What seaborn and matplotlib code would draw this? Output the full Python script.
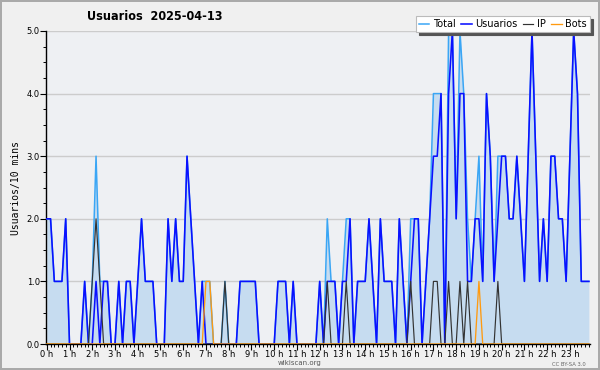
import numpy as np
import pandas as pd
import matplotlib
matplotlib.use("Agg")
import matplotlib.pyplot as plt
import seaborn as sns
from matplotlib.ticker import MultipleLocator

title = "Usuarios  2025-04-13"
ylabel = "Usuarios/10 mins"
hours = list(range(24))
hour_labels = [f"{h} h" for h in hours]
series_names = ["Total", "Usuarios", "IP", "Bots"]

# one value per 10-minute slot (144 slots)
usuarios = [2,2,1,1,1,2,0,0,0,0,1,0,
            0,1,0,1,1,0,0,1,0,1,1,0,
            1,2,1,1,1,0,0,0,2,1,2,1,
            1,3,2,1,0,1,0,0,0,0,0,0,
            0,0,0,1,1,1,1,1,0,0,0,0,
            0,1,1,1,0,1,0,0,0,0,0,0,
            1,0,1,1,1,0,1,1,2,0,1,1,
            1,2,1,0,2,1,1,1,0,2,1,0,
            1,2,2,0,1,2,3,3,4,0,4,5,
            2,4,4,1,1,2,2,1,4,3,1,2,
            3,3,2,2,3,2,1,3,5,3,1,2,
            1,3,3,2,2,1,3,5,4,1,1,1]
ip = [0,0,0,0,0,0,0,0,0,0,0,0,
      1,2,1,0,0,0,0,0,0,0,0,0,
      0,0,0,0,0,0,0,0,0,0,0,0,
      0,0,0,0,0,0,0,0,0,0,0,1,
      0,0,0,0,0,0,0,0,0,0,0,0,
      0,0,0,0,0,0,0,0,0,0,0,0,
      0,0,1,0,0,0,0,1,0,0,0,0,
      0,0,0,0,0,0,0,0,0,0,0,0,
      1,0,0,0,0,0,1,1,0,0,1,0,
      0,1,0,1,0,0,0,0,0,0,0,1,
      0,0,0,0,0,0,0,0,0,0,0,0,
      0,0,0,0,0,0,0,0,0,0,0,0]
bots = [0,0,0,0,0,0,0,0,0,0,0,0,
        0,0,0,0,0,0,0,0,0,0,0,0,
        0,0,0,0,0,0,0,0,0,0,0,0,
        0,0,0,0,0,0,1,1,0,0,0,0,
        0,0,0,0,0,0,0,0,0,0,0,0,
        0,0,0,0,0,0,0,0,0,0,0,0,
        0,0,0,0,0,0,0,0,0,0,0,0,
        0,0,0,0,0,0,0,0,0,0,0,0,
        0,0,0,0,0,0,0,0,0,0,0,0,
        0,0,0,0,0,0,1,0,0,0,0,0,
        0,0,0,0,0,0,0,0,0,0,0,0,
        0,0,0,0,0,0,0,0,0,0,0,0]
total = [2,2,1,1,1,2,0,0,0,0,1,0,
         1,3,1,1,1,0,0,1,0,1,1,0,
         1,2,1,1,1,0,0,0,2,1,2,1,
         1,3,2,1,0,1,1,1,0,0,0,1,
         0,0,0,1,1,1,1,1,0,0,0,0,
         0,1,1,1,0,1,0,0,0,0,0,0,
         1,0,2,1,1,0,1,2,2,0,1,1,
         1,2,1,0,2,1,1,1,0,2,1,0,
         2,2,2,0,1,2,4,4,4,0,5,5,
         2,5,4,2,1,2,3,1,4,3,1,3,
         3,3,2,2,3,2,1,3,5,3,1,2,
         1,3,3,2,2,1,3,5,4,1,1,1]

slots = np.arange(len(total))
df = pd.DataFrame({"slot": slots, "Total": total, "Usuarios": usuarios,
                   "IP": ip, "Bots": bots})

colors = {"Total": "#3aa6f5", "Usuarios": "#0a10ff", "IP": "#333333", "Bots": "#ff9a10"}
widths = {"Total": 1.1, "Usuarios": 1.15, "IP": 0.85, "Bots": 0.95}
fill_color = "#c6dcf0"

fig = plt.figure(figsize=(6, 3.7), dpi=100)
fig.patch.set_facecolor("#f0f0f0")
ax = fig.add_axes([46/600, 1-344/370, (590-46)/600, (344-31)/370])
ax.set_facecolor("#eef0f3")

ax.fill_between(df["slot"], 0, df["Total"], color=fill_color, lw=0, zorder=1)
for name in series_names:
    sns.lineplot(data=df, x="slot", y=name, ax=ax, color=colors[name],
                 lw=widths[name], label=name, zorder=3)

ax.set_xlim(-0.2, 143.3)
ax.set_ylim(0, 5)
ax.set_xticks(np.arange(0, 144, 6))
ax.set_xticklabels(hour_labels)
ax.xaxis.set_minor_locator(MultipleLocator(1))
ax.set_yticks(np.arange(0, 6, 1))
ax.set_yticklabels([f"{v:.1f}" for v in range(6)])
ax.yaxis.set_minor_locator(MultipleLocator(0.25))
ax.tick_params(axis="both", which="major", length=4, width=0.8, labelsize=6,
               pad=0.5, colors="black")
ax.tick_params(axis="both", which="minor", length=2.5, width=0.7)
ax.set_axisbelow(True)
ax.grid(axis="y", which="major", color="#cccccc", lw=1)
ax.grid(axis="x", visible=False)
for s in ["top", "right"]:
    ax.spines[s].set_visible(False)
for s in ["left", "bottom"]:
    ax.spines[s].set_color("black")
    ax.spines[s].set_linewidth(1)
ax.set_xlabel("")
ax.set_ylabel(ylabel, family="DejaVu Sans Mono", fontsize=7, labelpad=4)

leg = ax.legend(loc="upper right", bbox_to_anchor=(590/600, 1-16/370),
                bbox_transform=fig.transFigure, ncol=4, fontsize=7,
                frameon=True, fancybox=False, shadow={"color": "#555555", "alpha": 1},
                handlelength=1.1, handletextpad=0.4, columnspacing=0.5,
                borderpad=0.3, borderaxespad=0)
leg.get_frame().set_edgecolor("#bbbbbb")
leg.get_frame().set_facecolor("white")
leg.get_frame().set_linewidth(0.8)
leg.set_zorder(10)

fig.text(87/600, 1-17/370, title, fontsize=9, fontweight="bold",
         fontstretch="condensed", va="center", ha="left")
fig.text(300/600, 1-363/370, "wikiscan.org", fontsize=5, color="#555555",
         ha="center", va="center")
fig.text(569/600, 1-364/370, "CC BY-SA 3.0", fontsize=3.8, color="#666666",
         ha="center", va="center")

fig.patch.set_edgecolor("#aaaaaa")
fig.patch.set_linewidth(1.5)
fig.savefig("out.png", dpi=100, facecolor=fig.get_facecolor(), edgecolor=fig.get_edgecolor())
